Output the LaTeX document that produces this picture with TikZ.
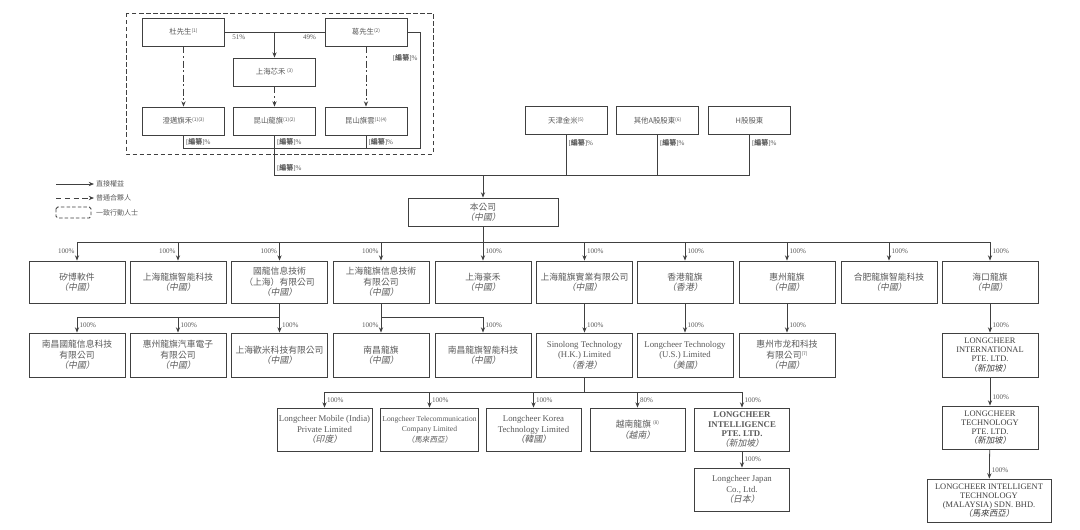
\documentclass[tikz,border=0pt]{standalone}
\usepackage{fontspec}
\setmainfont{Liberation Serif}
\newfontfamily\cjk{Noto Sans CJK TC}
\newfontfamily\cjkit{Noto Sans CJK TC}[FakeSlant=0.2]
\usetikzlibrary{arrows.meta, positioning, calc}
\definecolor{tinta}{HTML}{5A5A5A}
\definecolor{borde}{HTML}{404040}
\newcommand{\pais}[1]{{\cjkit （#1）}}
\newcommand{\nota}[1]{\raisebox{0.55ex}{\fontsize{2.8}{3}\selectfont(#1)}}
\newcommand{\bianzuan}{[{\cjk\bfseries 編纂}]\%}
\tikzset{
  every picture/.style={>=Stealth},
  caja/.style={draw=borde, text=tinta, line width=0.5pt, minimum width=1.92cm, minimum height=0.84cm,
               inner sep=1pt, align=center, font=\fontsize{5}{6}\selectfont},
  cajap/.style={caja, minimum width=1.64cm, minimum height=0.56cm, font=\fontsize{4.2}{5}\selectfont},
  cajae/.style={caja, text=black!75, font=\fontsize{4.8}{5.2}\selectfont, inner sep=0pt},
  linea/.style={draw=borde, line width=0.45pt},
  flecha/.style={linea, -{Stealth[length=3pt, width=2.4pt]}},
  flechad/.style={flecha, dash pattern=on 4pt off 1.5pt on 1pt off 1.5pt},
  pct/.style={text=tinta, font=\fontsize{4}{4.5}\selectfont, inner sep=1.2pt},
  ley/.style={text=tinta, font=\fontsize{4}{4.5}\selectfont\cjk, inner sep=1pt, anchor=west},
}
\begin{document}
\begin{tikzpicture}[x=0.02cm, y=-0.02cm]
  \path[use as bounding box, fill=white] (0,0) rectangle (1080,529);

  % grupo de control
  \draw[borde, line width=0.5pt, dash pattern=on 2.5pt off 1.5pt] (126,13) rectangle (433,154);
  \node[cajap] (du) at (183.5,32) {\cjk 杜先生\nota{1}};
  \node[cajap] (ge) at (366,32) {\cjk 葛先生\nota{2}};
  \node[cajap] (xh) at (274.5,72) {\cjk 上海芯禾 \nota{3}};
  \node[cajap] (cm) at (183.5,121) {\cjk 澄邁旗禾\nota{1}\nota{3}};
  \node[cajap] (ks) at (274.5,121) {\cjk 昆山龍旗\nota{1}\nota{2}};
  \node[cajap] (qy) at (366,121) {\cjk 昆山旗雲\nota{1}\nota{4}};
  \coordinate (g1) at (420,148);
  \coordinate (b1) at (275,175);
  \draw[linea] (du.east) -- node[pct, below, pos=0.14] {51\%} node[pct, below, pos=0.85] {49\%} (ge.west);
  \draw[flecha] (du.east -| xh.north) -- (xh.north);
  \draw[flechad] (du) -- (cm); \draw[flechad] (xh) -- (ks); \draw[flechad] (ge) -- (qy);
  \draw[linea] (ge.east) -| node[pct, left, pos=0.61] {\bianzuan} (g1) -- (cm.south |- g1)
    -- node[pct, right] {\bianzuan} (cm.south);
  \draw[linea] (qy.south) -- node[pct, right] {\bianzuan} (qy.south |- g1);

  % otros accionistas
  \node[cajap] (tj) at (566,120.5) {\cjk 天津金米\nota{5}};
  \node[cajap] (qt) at (657.5,120.5) {\cjk 其他A股股東\nota{6}};
  \node[cajap] (hg) at (749.5,120.5) {\cjk H股股東};
  \draw[linea] (ks.south) -- node[pct, right, pos=0.17] {\bianzuan} node[pct, right, pos=0.83] {\bianzuan}
    (ks.south |- b1) -- (b1 -| hg.south);
  \foreach \s in {tj, qt, hg}
    \draw[linea] (\s.south) -- node[pct, right, pos=0.2] {\bianzuan} (\s.south |- b1);

  % leyenda
  \node[ley] (ley1) at (94,184) {直接權益};
  \node[ley] (ley2) at (94,198) {普通合夥人};
  \node[ley] (ley3) at (94,212.5) {一致行動人士};
  \coordinate (la) at (56,184); \coordinate (lb) at (56,198);
  \draw[flecha] (la) -- (ley1.west);
  \draw[flecha, dash pattern=on 3pt off 2pt] (lb) -- (ley2.west);
  \draw[borde, line width=0.5pt, dash pattern=on 2pt off 1.2pt, rounded corners=1pt] (56,207) rectangle (91,218);

  % la compania
  \node[caja, minimum width=3cm, minimum height=0.56cm] (gs) at (483,212) {\cjk 本公司\\\pais{中國}};
  \draw[flecha] (gs.north |- b1) -- (gs.north);

  % primera fila
  \node[caja] (n1) at (77,282) {\cjk 矽博軟件\\\pais{中國}};
  \node[caja] (n2) at (178,282) {\cjk 上海龍旗智能科技\\\pais{中國}};
  \node[caja] (n3) at (279.5,282) {\cjk 國龍信息技術\\\cjk （上海）有限公司\\\pais{中國}};
  \node[caja] (n4) at (381,282) {\cjk 上海龍旗信息技術\\\cjk 有限公司\\\pais{中國}};
  \node[caja] (n5) at (483,282) {\cjk 上海豪禾\\\pais{中國}};
  \node[caja] (n6) at (584.5,282) {\cjk 上海龍旗實業有限公司\\\pais{中國}};
  \node[caja] (n7) at (685,282) {\cjk 香港龍旗\\\pais{香港}};
  \node[caja] (n8) at (787,282) {\cjk 惠州龍旗\\\pais{中國}};
  \node[caja] (n9) at (889,282) {\cjk 合肥龍旗智能科技\\\pais{中國}};
  \node[caja] (n10) at (990,282) {\cjk 海口龍旗\\\pais{中國}};
  \coordinate (r1) at (0,242);
  \draw[linea] (gs.south) -- (gs.south |- r1);
  \draw[linea] (n1.north |- r1) -- (n10.north |- r1);
  \foreach \i in {1,...,4}
    \draw[flecha] (n\i.north |- r1) -- node[pct, left] {100\%} (n\i.north);
  \foreach \i in {5,...,10}
    \draw[flecha] (n\i.north |- r1) -- node[pct, right] {100\%} (n\i.north);

  % segunda fila
  \node[caja, minimum height=0.88cm] (m1) at (77,355) {\cjk 南昌國龍信息科技\\\cjk 有限公司\\\pais{中國}};
  \node[caja, minimum height=0.88cm] (m2) at (178,355) {\cjk 惠州龍旗汽車電子\\\cjk 有限公司\\\pais{中國}};
  \node[caja, minimum height=0.88cm] (m3) at (279.5,355) {\cjk 上海歡米科技有限公司\\\pais{中國}};
  \node[caja, minimum height=0.88cm] (m4) at (381,355) {\cjk 南昌龍旗\\\pais{中國}};
  \node[caja, minimum height=0.88cm] (m5) at (483,355) {\cjk 南昌龍旗智能科技\\\pais{中國}};
  \node[caja, minimum height=0.88cm] (m6) at (584.5,355) {Sinolong Technology\\(H.K.) Limited\\\pais{香港}};
  \node[caja, minimum height=0.88cm] (m7) at (685,355) {Longcheer Technology\\(U.S.) Limited\\\pais{美國}};
  \node[caja, minimum height=0.88cm] (m8) at (787,355) {\cjk 惠州市龙和科技\\\cjk 有限公司\nota{7}\\\pais{中國}};
  \node[cajae, minimum height=0.88cm] (m10) at (990,355) {LONGCHEER\\INTERNATIONAL\\PTE. LTD.\\\pais{新加坡}};
  \coordinate (r2) at (0,317);
  \draw[linea] (n3.south) -- (n3.south |- r2) -- (m1.north |- r2);
  \foreach \i in {1,2,3}
    \draw[flecha] (m\i.north |- r2) -- node[pct, right] {100\%} (m\i.north);
  \draw[linea] (n4.south) -- (n4.south |- r2) -- (m5.north |- r2);
  \draw[flecha] (m4.north |- r2) -- node[pct, left] {100\%} (m4.north);
  \draw[flecha] (m5.north |- r2) -- node[pct, right] {100\%} (m5.north);
  \foreach \a/\b in {n6/m6, n7/m7, n8/m8, n10/m10}
    \draw[flecha] (\a) -- node[pct, right, pos=0.73] {100\%} (\b);

  % tercera fila
  \node[caja, minimum width=1.9cm, minimum height=0.86cm] (k1) at (324.5,429.5) {Longcheer Mobile (India)\\Private Limited\\\pais{印度}};
  \node[caja, minimum width=1.9cm, minimum height=0.86cm, font=\fontsize{4.3}{6}\selectfont] (k2) at (429.5,429.5) {Longcheer Telecommunication\\Company Limited\\\pais{馬來西亞}};
  \node[caja, minimum width=1.9cm, minimum height=0.86cm] (k3) at (533.5,429.5) {Longcheer Korea\\Technology Limited\\\pais{韓國}};
  \node[caja, minimum width=1.9cm, minimum height=0.86cm] (k4) at (637.5,429.5) {\cjk 越南龍旗 \nota{8}\\\pais{越南}};
  \node[caja, minimum width=1.9cm, minimum height=0.86cm, inner sep=0pt, font=\fontsize{5}{5.4}\selectfont\bfseries] (k5) at (742,429.5) {LONGCHEER\\INTELLIGENCE\\PTE. LTD.\\\mdseries\pais{新加坡}};
  \node[caja, minimum width=1.9cm, minimum height=0.86cm] (jp) at (742,489.5) {Longcheer Japan\\Co., Ltd.\\\pais{日本}};
  \coordinate (r3) at (0,392);
  \draw[linea] (m6.south) -- (m6.south |- r3);
  \draw[linea] (k1.north |- r3) -- (k5.north |- r3);
  \foreach \i/\p in {1/100, 2/100, 3/100, 4/80, 5/100}
    \draw[flecha] (k\i.north |- r3) -- node[pct, right] {\p\%} (k\i.north);
  \draw[flecha] (k5) -- node[pct, right] {100\%} (jp);

  % columna derecha
  \node[cajae, minimum height=0.86cm] (sg) at (990,427.5) {LONGCHEER\\TECHNOLOGY\\PTE. LTD.\\\pais{新加坡}};
  \node[cajae, minimum width=2.48cm, minimum height=0.86cm] (my) at (989,500.5) {LONGCHEER INTELLIGENT\\TECHNOLOGY\\(MALAYSIA) SDN. BHD.\\\pais{馬來西亞}};
  \draw[flecha] (m10) -- node[pct, right, pos=0.69] {100\%} (sg);
  \draw[flecha] (sg) -- node[pct, right, pos=0.7] {100\%} (my);
\end{tikzpicture}
\end{document}
